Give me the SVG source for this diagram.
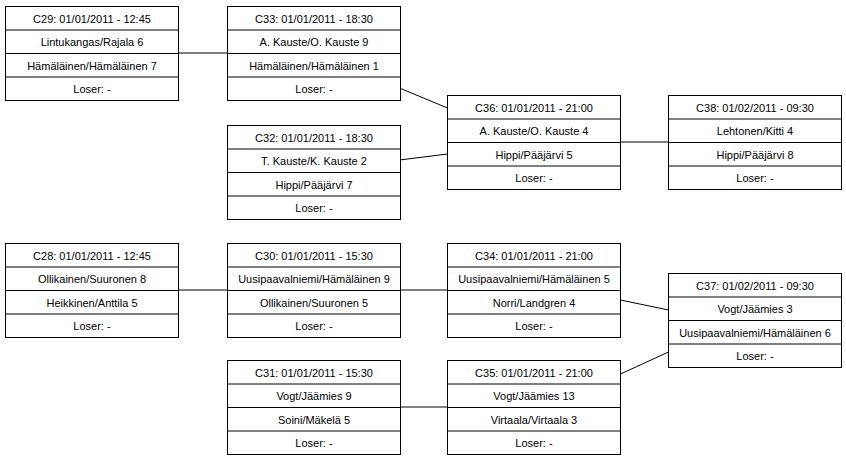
<svg xmlns="http://www.w3.org/2000/svg" width="846" height="462" viewBox="0 0 846 462">
<style>
rect{fill:#fff;stroke:#000;stroke-width:1}
line.r{stroke:#000;stroke-width:1}
text{font-family:"Liberation Sans",Arial,sans-serif;font-size:11px;text-anchor:middle;fill:#000}
#connectors line{stroke:#000;stroke-width:1}
</style>
<defs>
<g id="box">
<rect x="0" y="0" width="173" height="94"/>
<line class="r" x1="0" y1="23.5" x2="173" y2="23.5"/>
<line class="r" x1="0" y1="47" x2="173" y2="47"/>
<line class="r" x1="0" y1="70.5" x2="173" y2="70.5"/>
</g>
</defs>
<g id="connectors">
<line x1="178.5" y1="53" x2="227.5" y2="53"/>
<line x1="399.5" y1="88" x2="447.5" y2="108"/>
<line x1="399.5" y1="160" x2="447.5" y2="154"/>
<line x1="620.5" y1="142" x2="668.5" y2="142"/>
<line x1="178.5" y1="290" x2="447.5" y2="290"/>
<line x1="620.5" y1="300" x2="668.5" y2="310"/>
<line x1="620.5" y1="374" x2="668.5" y2="352"/>
<line x1="399.5" y1="407" x2="447.5" y2="407"/>
</g>
<g id="C29" transform="translate(5.5,6.5)"><use href="#box"/>
<text x="86.5" y="16">C29: 01/01/2011 - 12:45</text><text x="86.5" y="39.5">Lintukangas/Rajala 6</text><text x="86.5" y="63">Hämäläinen/Hämäläinen 7</text><text x="86.5" y="86.5">Loser: -</text></g>
<g id="C33" transform="translate(227.5,6.5)"><use href="#box"/>
<text x="86.5" y="16">C33: 01/01/2011 - 18:30</text><text x="86.5" y="39.5">A. Kauste/O. Kauste 9</text><text x="86.5" y="63">Hämäläinen/Hämäläinen 1</text><text x="86.5" y="86.5">Loser: -</text></g>
<g id="C32" transform="translate(227.5,125.5)"><use href="#box"/>
<text x="86.5" y="16">C32: 01/01/2011 - 18:30</text><text x="86.5" y="39.5">T. Kauste/K. Kauste 2</text><text x="86.5" y="63">Hippi/Pääjärvi 7</text><text x="86.5" y="86.5">Loser: -</text></g>
<g id="C36" transform="translate(447.5,95.5)"><use href="#box"/>
<text x="86.5" y="16">C36: 01/01/2011 - 21:00</text><text x="86.5" y="39.5">A. Kauste/O. Kauste 4</text><text x="86.5" y="63">Hippi/Pääjärvi 5</text><text x="86.5" y="86.5">Loser: -</text></g>
<g id="C38" transform="translate(668.5,95.5)"><use href="#box"/>
<text x="86.5" y="16">C38: 01/02/2011 - 09:30</text><text x="86.5" y="39.5">Lehtonen/Kitti 4</text><text x="86.5" y="63">Hippi/Pääjärvi 8</text><text x="86.5" y="86.5">Loser: -</text></g>
<g id="C28" transform="translate(5.5,243.5)"><use href="#box"/>
<text x="86.5" y="16">C28: 01/01/2011 - 12:45</text><text x="86.5" y="39.5">Ollikainen/Suuronen 8</text><text x="86.5" y="63">Heikkinen/Anttila 5</text><text x="86.5" y="86.5">Loser: -</text></g>
<g id="C30" transform="translate(227.5,243.5)"><use href="#box"/>
<text x="86.5" y="16">C30: 01/01/2011 - 15:30</text><text x="86.5" y="39.5">Uusipaavalniemi/Hämäläinen 9</text><text x="86.5" y="63">Ollikainen/Suuronen 5</text><text x="86.5" y="86.5">Loser: -</text></g>
<g id="C34" transform="translate(447.5,243.5)"><use href="#box"/>
<text x="86.5" y="16">C34: 01/01/2011 - 21:00</text><text x="86.5" y="39.5">Uusipaavalniemi/Hämäläinen 5</text><text x="86.5" y="63">Norri/Landgren 4</text><text x="86.5" y="86.5">Loser: -</text></g>
<g id="C37" transform="translate(668.5,273.5)"><use href="#box"/>
<text x="86.5" y="16">C37: 01/02/2011 - 09:30</text><text x="86.5" y="39.5">Vogt/Jäämies 3</text><text x="86.5" y="63">Uusipaavalniemi/Hämäläinen 6</text><text x="86.5" y="86.5">Loser: -</text></g>
<g id="C31" transform="translate(227.5,360.5)"><use href="#box"/>
<text x="86.5" y="16">C31: 01/01/2011 - 15:30</text><text x="86.5" y="39.5">Vogt/Jäämies 9</text><text x="86.5" y="63">Soini/Mäkelä 5</text><text x="86.5" y="86.5">Loser: -</text></g>
<g id="C35" transform="translate(447.5,360.5)"><use href="#box"/>
<text x="86.5" y="16">C35: 01/01/2011 - 21:00</text><text x="86.5" y="39.5">Vogt/Jäämies 13</text><text x="86.5" y="63">Virtaala/Virtaala 3</text><text x="86.5" y="86.5">Loser: -</text></g>
</svg>
